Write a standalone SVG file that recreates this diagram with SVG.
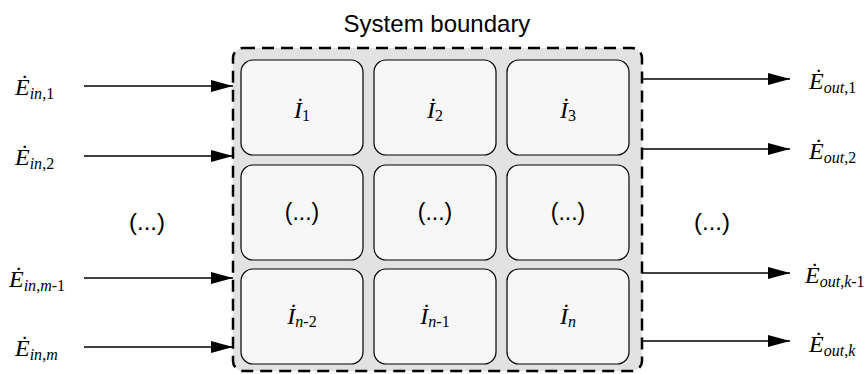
<svg xmlns="http://www.w3.org/2000/svg" width="864" height="374" viewBox="0 0 864 374">
<style>
.cell{fill:#f7f7f7;stroke:#000;stroke-width:1.2}
.m{font-family:'Liberation Serif','DejaVu Serif',serif;font-size:24px;font-style:italic;fill:#000}
.sub{font-size:16px}
.up{font-style:normal}
.s{font-family:'Liberation Sans',Arial,sans-serif;fill:#000}
.conn{stroke:#000;stroke-width:1.5;fill:none}
</style>
<defs>
<marker id="ah" markerWidth="22" markerHeight="12" refX="22" refY="6" orient="auto" markerUnits="userSpaceOnUse">
<path d="M0,0 L22,6 L0,12 Z" fill="#000"/>
</marker>
</defs>
<rect width="864" height="374" fill="#fff"/>
<g id="boundary">
<rect x="233" y="48" width="409" height="323" rx="10" fill="#e2e2e2" stroke="#000" stroke-width="2.5" stroke-dasharray="12,7"/>
<text class="s" x="437" y="32" font-size="24" text-anchor="middle">System boundary</text>
</g>
<g id="cell1"><rect class="cell" x="241" y="60" width="122" height="95" rx="12"/><text class="m" x="302" y="118" text-anchor="middle">İ<tspan class="sub up" dy="3">1</tspan></text></g>
<g id="cell2"><rect class="cell" x="374" y="60" width="122" height="95" rx="12"/><text class="m" x="435" y="118" text-anchor="middle">İ<tspan class="sub up" dy="3">2</tspan></text></g>
<g id="cell3"><rect class="cell" x="507" y="60" width="122" height="95" rx="12"/><text class="m" x="568" y="118" text-anchor="middle">İ<tspan class="sub up" dy="3">3</tspan></text></g>
<g id="cell4"><rect class="cell" x="241" y="165" width="122" height="95" rx="12"/><text class="s" x="302" y="220" font-size="23" text-anchor="middle">(...)</text></g>
<g id="cell5"><rect class="cell" x="374" y="165" width="122" height="95" rx="12"/><text class="s" x="435" y="220" font-size="23" text-anchor="middle">(...)</text></g>
<g id="cell6"><rect class="cell" x="507" y="165" width="122" height="95" rx="12"/><text class="s" x="568" y="220" font-size="23" text-anchor="middle">(...)</text></g>
<g id="cell7"><rect class="cell" x="241" y="269" width="122" height="95" rx="12"/><text class="m" x="302" y="324" text-anchor="middle">İ<tspan class="sub" dy="3">n</tspan><tspan class="sub up">-2</tspan></text></g>
<g id="cell8"><rect class="cell" x="374" y="269" width="122" height="95" rx="12"/><text class="m" x="435" y="324" text-anchor="middle">İ<tspan class="sub" dy="3">n</tspan><tspan class="sub up">-1</tspan></text></g>
<g id="cell9"><rect class="cell" x="507" y="269" width="122" height="95" rx="12"/><text class="m" x="568" y="324" text-anchor="middle">İ<tspan class="sub" dy="3">n</tspan></text></g>
<g id="connectors">
<line class="conn" x1="84" y1="86" x2="233" y2="86" marker-end="url(#ah)"/>
<line class="conn" x1="84" y1="156" x2="233" y2="156" marker-end="url(#ah)"/>
<line class="conn" x1="84" y1="278" x2="233" y2="278" marker-end="url(#ah)"/>
<line class="conn" x1="84" y1="347" x2="233" y2="347" marker-end="url(#ah)"/>
<line class="conn" x1="642" y1="79" x2="790" y2="79" marker-end="url(#ah)"/>
<line class="conn" x1="642" y1="149" x2="790" y2="149" marker-end="url(#ah)"/>
<line class="conn" x1="642" y1="273" x2="790" y2="273" marker-end="url(#ah)"/>
<line class="conn" x1="642" y1="341" x2="790" y2="341" marker-end="url(#ah)"/>
</g>
<g id="inputs">
<text class="m" x="15" y="95">Ė<tspan class="sub" dy="4">in</tspan><tspan class="sub up">,1</tspan></text>
<text class="m" x="15" y="165">Ė<tspan class="sub" dy="4">in</tspan><tspan class="sub up">,2</tspan></text>
<text class="s" x="147" y="230" font-size="24" text-anchor="middle">(...)</text>
<text class="m" x="9" y="287">Ė<tspan class="sub" dy="4">in</tspan><tspan class="sub up">,</tspan><tspan class="sub">m</tspan><tspan class="sub up">-1</tspan></text>
<text class="m" x="15" y="356">Ė<tspan class="sub" dy="4">in</tspan><tspan class="sub up">,</tspan><tspan class="sub">m</tspan></text>
</g>
<g id="outputs">
<text class="m" x="809" y="89">Ė<tspan class="sub" dy="4">out</tspan><tspan class="sub up">,1</tspan></text>
<text class="m" x="809" y="159">Ė<tspan class="sub" dy="4">out</tspan><tspan class="sub up">,2</tspan></text>
<text class="s" x="712" y="230" font-size="24" text-anchor="middle">(...)</text>
<text class="m" x="805" y="283">Ė<tspan class="sub" dy="4">out</tspan><tspan class="sub up">,</tspan><tspan class="sub">k</tspan><tspan class="sub up">-1</tspan></text>
<text class="m" x="809" y="352">Ė<tspan class="sub" dy="4">out</tspan><tspan class="sub up">,</tspan><tspan class="sub">k</tspan></text>
</g>
</svg>
